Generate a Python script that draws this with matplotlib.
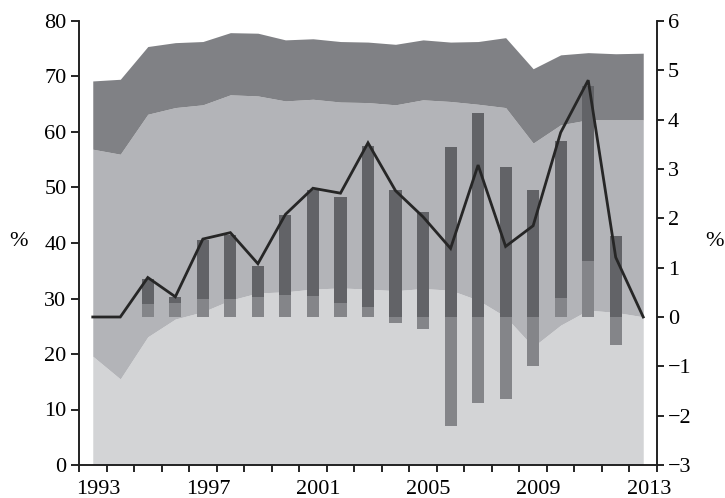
import numpy as np
import matplotlib
matplotlib.use("Agg")
import matplotlib.pyplot as plt

plt.rcParams['font.family'] = ['Liberation Serif', 'DejaVu Serif']

years = list(range(1993, 2014))

# stacked-area boundaries (left axis, %)
area_low = [19.6, 15.5, 23.1, 26.3, 27.6, 29.7, 31.0, 31.2, 31.7, 31.9, 31.7,
            31.4, 31.8, 31.5, 29.7, 26.7, 21.3, 25.2, 27.9, 27.5, 26.7]
area_mid = [56.9, 56.0, 63.2, 64.4, 64.9, 66.7, 66.5, 65.6, 65.9, 65.4, 65.3,
            64.9, 65.8, 65.5, 65.0, 64.4, 58.0, 61.3, 62.2, 62.2, 62.2]
area_top = [69.2, 69.5, 75.4, 76.1, 76.3, 77.9, 77.8, 76.6, 76.8, 76.3, 76.2,
            75.8, 76.6, 76.2, 76.3, 77.0, 71.4, 73.9, 74.3, 74.1, 74.2]

# bar components (right axis, %)
bar_years = list(range(1995, 2013))
bar_light = [0.26, 0.29, 0.36, 0.36, 0.41, 0.45, 0.43, 0.28, 0.21,
             -0.13, -0.24, -2.21, -1.75, -1.66, -0.99, 0.39, 1.14, -0.57]
bar_dark = [0.52, 0.11, 1.20, 1.31, 0.62, 1.62, 2.14, 2.16, 3.26,
            2.57, 2.13, 3.45, 4.13, 3.05, 2.57, 3.18, 3.54, 1.65]

# line (right axis, %)
line_vals = [0.0, 0.0, 0.80, 0.41, 1.58, 1.71, 1.08, 2.08, 2.61, 2.51, 3.53,
             2.56, 2.03, 1.39, 3.08, 1.43, 1.85, 3.74, 4.80, 1.21, 0.0]

left_ticks = [0, 10, 20, 30, 40, 50, 60, 70, 80]
right_ticks = [-3, -2, -1, 0, 1, 2, 3, 4, 5, 6]
label_years = [1993, 1997, 2001, 2005, 2009, 2013]

c_low = '#d3d4d6'
c_mid = '#b3b4b8'
c_top = '#808185'
c_bar_dark = '#626367'
c_bar_light = '#848589'
c_line = '#262626'

W, H = 725, 498
fig = plt.figure(figsize=(W / 100, H / 100), dpi=100)
ax = fig.add_axes([79 / W, 1 - 465 / H, (657 - 79) / W, (465 - 21) / H])

yrs = np.array(years)
ax.fill_between(yrs, 0, area_low, color=c_low, lw=0)
ax.fill_between(yrs, area_low, area_mid, color=c_mid, lw=0)
ax.fill_between(yrs, area_mid, area_top, color=c_top, lw=0)
ax.set_xlim(1992.5, 2013.5)
ax.set_ylim(0, 80)
ax.set_yticks(left_ticks)

fs = 16
ax.tick_params(axis='y', labelsize=fs, length=6, width=1.2, direction='out', pad=3)
ax.set_xticks(np.arange(1992.5, 2014.0, 1.0))
ax.set_xticklabels([])
ax.tick_params(axis='x', which='major', length=5, width=1.2, direction='out')
ax.set_xticks(np.array(label_years) + 0.2, minor=True)
ax.set_xticklabels([str(y) for y in label_years], minor=True)
ax.tick_params(axis='x', which='minor', length=0, labelsize=fs, pad=11)

ax.spines['top'].set_visible(False)
for s in ['left', 'bottom', 'right']:
    ax.spines[s].set_linewidth(1.2)
    ax.spines[s].set_color('#222222')

ax2 = ax.twinx()
bl = np.array(bar_light)
bd = np.array(bar_dark)
bx = np.array(bar_years)
ax2.bar(bx, bl, width=0.44, color=c_bar_light, lw=0)
ax2.bar(bx, bd, bottom=np.where(bl > 0, bl, 0), width=0.44, color=c_bar_dark, lw=0)
ax2.plot(yrs, line_vals, color=c_line, lw=2.0, solid_joinstyle='miter')
ax2.set_ylim(-3, 6)
ax2.set_yticks(right_ticks)
ax2.tick_params(axis='y', labelsize=fs, length=5, width=1.2, direction='out', pad=3)
ax2.spines['top'].set_visible(False)
for s in ['left', 'bottom', 'right']:
    ax2.spines[s].set_linewidth(1.2)
    ax2.spines[s].set_color('#222222')
ax2.set_xlim(1992.5, 2013.5)

fig.text(18 / W, 1 - 241 / H, '%', fontsize=fs, ha='center', va='center')
fig.text(714 / W, 1 - 241 / H, '%', fontsize=fs, ha='center', va='center')

fig.savefig('out.png', dpi=100)
